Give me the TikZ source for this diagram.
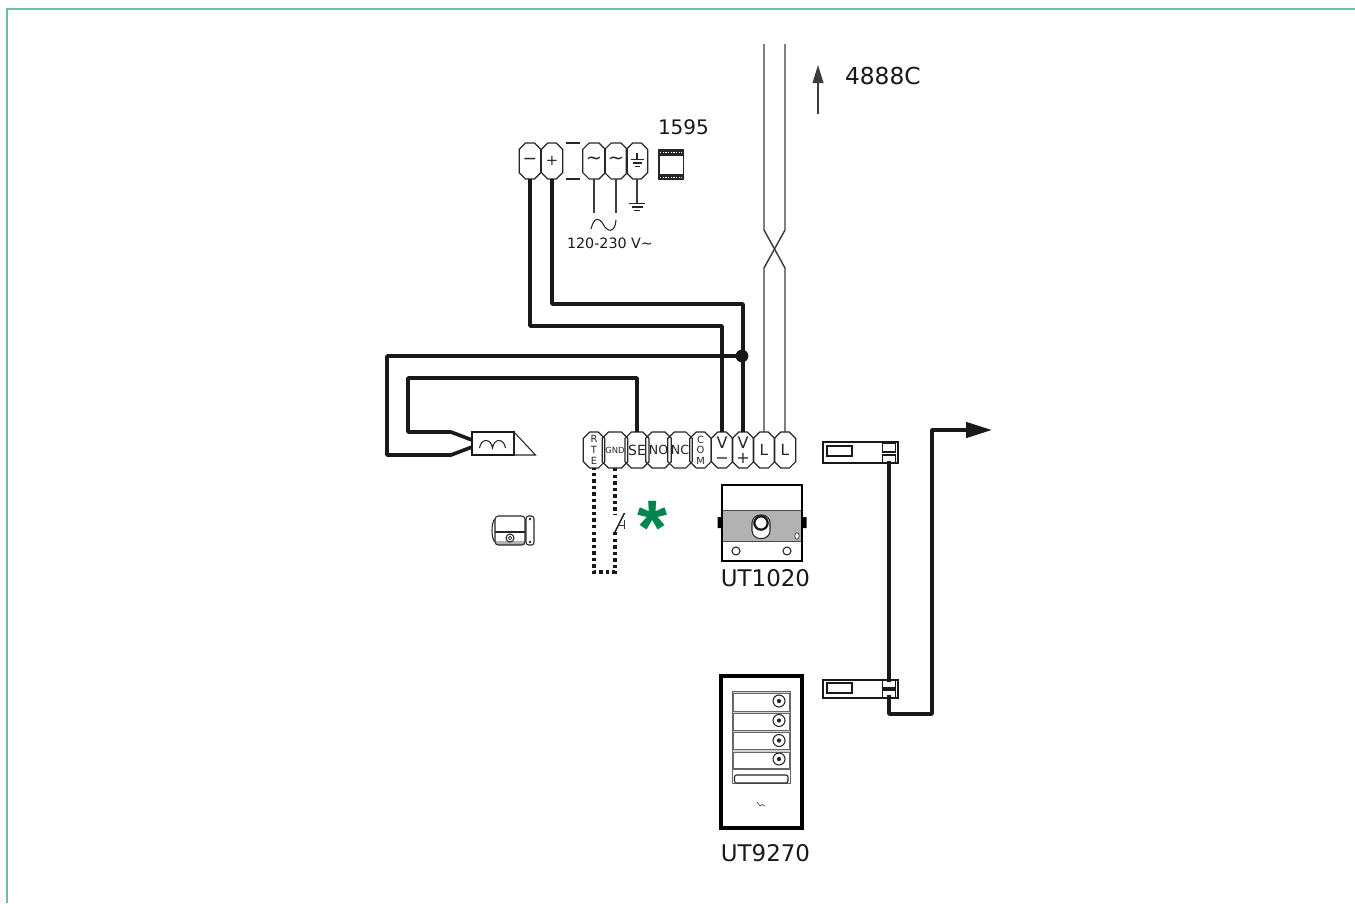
\documentclass[tikz,border=0pt]{standalone}
\usepackage{fontspec}
\setmainfont{DejaVu Sans}
\newfontfamily\starfont{Liberation Sans}
\usetikzlibrary{shapes.misc,arrows.meta}
\definecolor{framegreen}{RGB}{110,190,160}
\definecolor{stargreen}{RGB}{0,133,80}
\definecolor{inkgray}{RGB}{60,60,60}
\tikzset{
  term/.style={draw=black!85,line width=0.9pt,chamfered rectangle,chamfered rectangle xsep=2.4pt,chamfered rectangle ysep=2.4pt,
    minimum width=16.1pt,minimum height=27pt,inner sep=0pt,outer sep=0pt,align=center,font=\fontsize{10.5}{11}\selectfont,text=black!85},
  stacked/.style={font=\fontsize{7.4}{8}\selectfont},
  volt/.style={font=\fontsize{12}{11.5}\selectfont},
  thick wire/.style={line width=2.7pt,black!90,line join=round},
  thin wire/.style={line width=1.1pt,inkgray},
  dot wire/.style={line width=2.8pt,black!90,dash pattern=on 2.6pt off 2.3pt},
  lbl/.style={inner sep=0pt,outer sep=0pt,text=black!90},
  box/.style={draw=black!90,line width=1.1pt,inner sep=0pt,outer sep=0pt,fill=white},
  fine/.style={line width=0.8pt,black!85},
  softline/.style={line width=0.7pt,black!60},
}
\begin{document}
\begin{tikzpicture}[x=0.75pt,y=-0.75pt]
\useasboundingbox (0,0) rectangle (1355,903);
% frame
\draw[framegreen,line width=1.6pt] (7,903) -- (7,9) -- (1355,9);
% bus lines
\coordinate (busa) at (764,44);
\coordinate (busb) at (785,44);
\coordinate (xa1) at (764,230);
\coordinate (xb1) at (785,230);
\coordinate (xa2) at (764,268);
\coordinate (xb2) at (785,268);
% upper terminals
\node[term,font=\fontsize{13}{13}\selectfont] (tminus) at (530,161) {−};
\node[term,font=\fontsize{11}{11}\selectfont] (tplus) at (552,161) {+};
\node[term,font=\fontsize{14.5}{14}\selectfont] (tac1) at (594,161) {∼};
\node[term,font=\fontsize{14.5}{14}\selectfont] (tac2) at (616,161) {∼};
\node[term] (tearth) at (637,161) {\phantom{x}};
\draw[fine] (637,153) -- (637,159.5);
\draw[fine] (630.5,159.5) -- (643.5,159.5) (632.5,163) -- (641.5,163) (634.5,166.5) -- (639.5,166.5);
\draw[fine] (566,143) -- (580,143) (566,179) -- (580,179);
% lower terminals
\node[term,stacked] (trte) at (594,450) {R\\T\\E};
\node[term,font=\fontsize{6.3}{7}\selectfont] (tgnd) at (615,450) {GND};
\node[term] (tse) at (637,450) {SE};
\node[term,font=\fontsize{9.4}{10}\selectfont] (tno) at (658.5,450) {NO};
\node[term,font=\fontsize{9.4}{10}\selectfont] (tnc) at (680,450) {NC};
\node[term,stacked] (tcom) at (700.5,450) {C\\O\\M};
\node[term,volt] (tvm) at (722,450) {V\\−};
\node[term,volt] (tvp) at (743,450) {V\\+};
\node[term,font=\fontsize{11.5}{11}\selectfont] (tl1) at (764,450) {L};
\node[term,font=\fontsize{11.5}{11}\selectfont] (tl2) at (785,450) {L};
% bus
\draw[thin wire] (busa) -- (xa1) -- (xb2) -- (tl2.north);
\draw[thin wire] (busb) -- (xb1) -- (xa2) -- (tl1.north);
% 4888C arrow
\coordinate (up0) at (818,114);
\coordinate (up1) at (818,65);
\draw[line width=1.3pt,inkgray,-{Triangle[length=13.5pt,width=8pt]}] (up0) -- (up1);
\node[lbl,anchor=west,font=\fontsize{17.5}{18}\selectfont] (l4888) at (845,76.5) {4888C};
\node[lbl,anchor=west,font=\fontsize{15}{16}\selectfont] (l1595) at (658,127) {1595};
% psu icon
\fill[black!85] (658,149) rectangle (684,180);
\fill[white] (659.5,155.5) rectangle (682.5,173.5);
\draw[white,line width=0.5pt,dash pattern=on 1pt off 1pt] (660,152) -- (682,152) (660,177) -- (682,177);
% mains
\coordinate (acend1) at (594,213);
\coordinate (acend2) at (616,213);
\coordinate (eend) at (637,203);
\draw[thin wire,line width=0.8pt] (tac1.south) -- (acend1);
\draw[thin wire,line width=0.8pt] (tac2.south) -- (acend2);
\draw[thin wire,line width=0.8pt] (tearth.south) -- (eend);
\draw[fine] (629,203.5) -- (645,203.5) (631.5,207) -- (642.5,207) (634,210.5) -- (640,210.5);
\draw[fine] (591,229) .. controls (594,217) and (599,217) .. (603,224) .. controls (607,232) and (615,234) .. (616,220);
\node[lbl,font=\fontsize{10.7}{11}\selectfont] (lvolt) at (610,243) {120-230 V∼};
% power wires
\coordinate (c1) at (722,326);
\coordinate (c2) at (743,304);
\draw[thick wire] (tminus.south) |- (c1) -- (tvm.north);
\draw[thick wire] (tplus.south) |- (c2) -- (tvp.north);
% relay
\node[box,minimum width=31.5pt,minimum height=17.25pt] (relay) at (493,443.5) {};
\draw[fine] (514,432) -- (514,455) -- (535.5,455) -- cycle;
\draw[fine] (479.5,448) .. controls (481,438) and (491,438) .. (492.5,448) .. controls (494,438) and (504,438) .. (505.5,448);
\coordinate (r1) at (472,440);
\coordinate (r2) at (472,447);
\coordinate (k1) at (742,356);
\coordinate (k2) at (387,455);
\coordinate (k3) at (451,455);
\coordinate (k4) at (408,378);
\coordinate (k5) at (408,432);
\coordinate (k6) at (451,432);
\draw[thick wire] (k1) -| (k2) -- (k3) -- (r2);
\draw[thick wire] (tse.north) |- (k4) -- (k5) -- (k6) -- (r1);
\fill[black!90] (k1) circle (4.8pt);
% lock
\fill[gray!60] (496,541) rectangle (525,545);
\draw[fine,rounded corners=2.5pt] (495,516) rectangle (525,545);
\draw[fine] (495,532) -- (525,532);
\draw[fine] (495,519) .. controls (491,522) and (491,539) .. (495,542);
\draw[fine,rounded corners=2pt] (526,516) rectangle (534,545);
\fill[black!85] (530,519) circle (1pt) (530,542) circle (1pt);
\draw[fine,fill=white] (510,538) circle (3pt);
\draw[line width=0.5pt] (510,538) circle (1.3pt);
% door switch
\coordinate (s1) at (615,514);
\coordinate (s2) at (615,532);
\coordinate (s3) at (615,572);
\coordinate (s4) at (594,572);
\coordinate (s5) at (624.5,513);
\draw[dot wire] (tgnd.south) -- (s1);
\draw[dot wire] (s2) -- (s3) -- (s4) -- (trte.south);
\draw[line width=1.1pt,black!90] (s2) -- (s5);
\draw[line width=0.5pt,black!80] (618,525) -- (624,525) (624,520) -- (624,529);
\node[inner sep=0pt,text=stargreen,font=\starfont\bfseries\fontsize{58}{58}\selectfont] (star) at (652.5,527.5) {*};
% UT1020
\fill[black] (717.5,517) rectangle (722,528) (802,517) rectangle (806.5,528);
\fill[gray!60] (722,510) rectangle (802,541);
\draw[black!70,line width=0.7pt] (722,510) -- (802,510) (722,541) -- (802,541);
\draw[black,line width=2.2pt] (722,485) rectangle (802,561);
\draw[fine,fill=white,rounded corners=6pt] (752,515) rectangle (770,538.5);
\draw[black!90,line width=1.7pt,fill=white] (761,523) circle (5pt);
\draw[fine,fill=white] (736,551) circle (3pt) (787,551) circle (3pt);
\draw[line width=0.5pt,black!80,fill=white] (797,536) ellipse (1.6pt and 2.5pt);
\node[lbl,font=\fontsize{17.2}{18}\selectfont] (l1020) at (765.5,578) {UT1020};
% UT9270
\draw[black,line width=2.6pt] (721,676) rectangle (802,828);
\draw[softline,fill=gray!35] (732,691) rectangle (790.5,783);
\foreach \ya/\yb/\yc in {693/711/701,713/730/720.5,732.5/749/740.5,752/768/759}{
  \draw[softline,fill=white] (733.5,\ya) rectangle (789,\yb);
  \draw[fine,fill=white] (779,\yc) circle (4.5pt);
  \fill[black!85] (779,\yc) circle (1.6pt);
}
\draw[softline,fill=white] (732,769.5) rectangle (790.5,783);
\draw[fine,fill=white,rounded corners=1.5pt] (734.5,775) rectangle (788,783);
\draw[line width=0.5pt,black!70] (757,802) -- (760,806) -- (762,804.5) -- (765,806);
\node[lbl,font=\fontsize{17.2}{18}\selectfont] (l9270) at (765.5,853) {UT9270};
% modules
\node[box,minimum width=56.25pt,minimum height=15.75pt] (m1) at (860.5,452.5) {};
\node[box,minimum width=18.75pt,minimum height=7.5pt,line width=1.3pt] (m1i) at (839.5,451) {};
\node[box,minimum width=9.75pt,minimum height=6.5pt] (m1a) at (889,447.5) {};
\node[box,minimum width=9.75pt,minimum height=6pt] (m1b) at (889,459) {};
\node[box,minimum width=56.25pt,minimum height=13.5pt] (m2) at (860.5,689) {};
\node[box,minimum width=18.75pt,minimum height=7.5pt,line width=1.3pt] (m2i) at (839.5,688) {};
\node[box,minimum width=9.75pt,minimum height=6pt] (m2a) at (889,684) {};
\node[box,minimum width=9.75pt,minimum height=6pt] (m2b) at (889,694) {};
\coordinate (w1) at (932,714);
\coordinate (w2) at (932,430);
\coordinate (w3) at (992,430);
\draw[thick wire] ([yshift=1.5pt]m1b.south) -- ([yshift=-1.5pt]m2a.north);
\draw[thick wire,-{Triangle[length=19.5pt,width=11.5pt]}] ([yshift=2.5pt]m2b.south) |- (w1) -- (w2) -- (w3);
\end{tikzpicture}
\end{document}
